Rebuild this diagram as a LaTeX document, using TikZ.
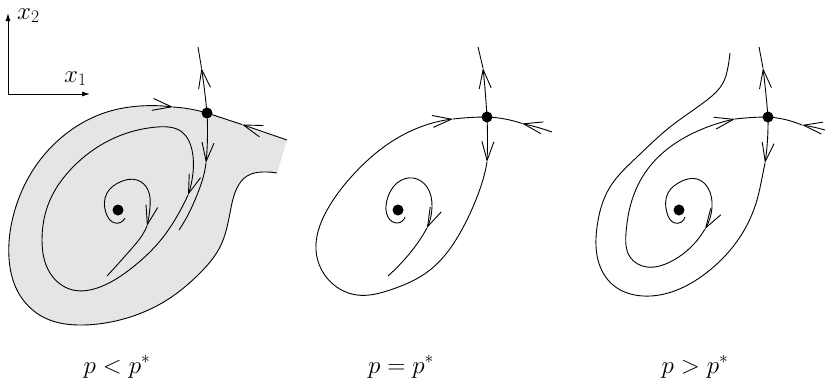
\RequirePackage{fix-cm}
\documentclass[tikz,border=0pt]{standalone}
\usetikzlibrary{arrows.meta,hobby}
\begin{document}
\begin{tikzpicture}[x=1pt,y=-1pt,
  curve/.style={line width=0.9pt, line join=round},
  barb/.style={curve,-{Straight Barb[length=19pt,width=12pt]}},
  hb/.style={use Hobby shortcut},
  axis/.style={line width=0.9pt,-{Latex[length=8pt,width=5pt]}},
  dot/.style={circle, fill=black, inner sep=0pt, minimum size=11pt},
  lab/.style={font=\fontsize{25}{30}\selectfont, anchor=base, inner sep=0pt},
  region/.style={fill=black!10}]
\useasboundingbox (0,0) rectangle (825,384);

% axes
\coordinate (o) at (8,94);
\coordinate (ax2) at (8,13);
\coordinate (ax1) at (90,94);
\draw[axis] (o) -- (ax2);
\draw[axis] (o) -- (ax1);
\node[lab, anchor=base west] (lx2) at (17,19) {$x_2$};
\node[lab, anchor=base west] (lx1) at (64,82) {$x_1$};

% fixed points
\coordinate (S1) at (207,113);
\coordinate (F1) at (118,210);
\coordinate (S2) at (487,117);
\coordinate (F2) at (398,210);
\coordinate (S3) at (768,117);
\coordinate (F3) at (679,210);

% ---------- panel 1 ----------
\fill[region, hb] (277,173) .. (263,172) .. (247,176) .. (237,188) .. (230,213) .. (220,247) .. (200,273) .. (167,300) .. (127,318) .. (83,325) .. (45,318) .. (18,292) .. (9,258) .. (14,213) .. (33,170) .. (67,133) .. (107,112) .. (140,106) .. (173,107) .. (207,113) -- (242,124.5) -- (287,140) -- cycle;
\draw[barb] (287,140) -- (242,124.5);
\draw[curve] (242,124.5) -- (S1);
\draw[barb, hb] (277,173) .. (263,172) .. (247,176) .. (237,188) .. (230,213) .. (220,247) .. (200,273) .. (167,300) .. (127,318) .. (83,325) .. (45,318) .. (18,292) .. (9,258) .. (14,213) .. (33,170) .. (67,133) .. (107,112) .. (140,106) .. (173,107);
\draw[curve, hb] (173,107) .. (190,109) .. (207,113);
\draw[barb, hb] (207,113) .. (204.5,90) .. (201.5,68);
\draw[curve] (201.5,68) -- (198,47);
\draw[barb, hb] (207,113) .. (207.5,135) .. (206,163);
\draw[curve, hb] (206,163) .. (203,178) .. (197,195) .. (189,213) .. (179,230);
\draw[barb, hb] (188,195) .. (176,218) .. (160,241) .. (133,267) .. (100,287) .. (73,290) .. (50,273) .. (42,240) .. (50,200) .. (73,167) .. (110,140) .. (157,127) .. (182,132) .. (192,150) .. (193,173) .. (188,195);
\draw[barb, hb] (125,218) .. (115,223) .. (106,213) .. (107,193) .. (120,182) .. (137,180) .. (148,190) .. (150,207) .. (147,226);
\draw[curve, hb] (147,226) .. (141,237) .. (133,247) .. (107,276);

% ---------- panel 2 ----------
\draw[barb, hb] (487,117) .. (485.5,95) .. (483,68);
\draw[curve] (483,68) -- (478,47);
\draw[barb, hb] (552,132) .. (538,127.5) .. (522,123.5);
\draw[curve, hb] (522,123.5) .. (505,119) .. (487,117);
\draw[barb, hb] (487,117) .. (487.5,140) .. (487,162);
\draw[barb, hb] (487,162) .. (485,172) .. (477,197) .. (460,233) .. (430,270) .. (390,290) .. (357,295) .. (327,278) .. (316,250) .. (326,212) .. (352,176) .. (388,144) .. (423,126) .. (453,119);
\draw[curve, hb] (453,119) .. (470,117.5) .. (487,117);
\draw[barb, hb] (405,217) .. (397,223) .. (388,217) .. (387,200) .. (397,183) .. (413,178) .. (427,187) .. (432,207) .. (427,228);
\draw[curve, hb] (427,228) .. (419,241) .. (410,253) .. (388,276);

% ---------- panel 3 ----------
\draw[barb, hb] (768,117) .. (766,95) .. (763,68);
\draw[curve] (763,68) -- (759,47);
\draw[barb, hb] (825,130) .. (813,127) .. (802,125);
\draw[curve, hb] (802,125) .. (785,119.5) .. (768,117);
\draw[barb, hb] (768,117) .. (767.5,140) .. (765,163);
\draw[curve, hb] (765,163) .. (762,178) .. (757,200) .. (740,237) .. (710,270) .. (677,290) .. (643,296) .. (613,285) .. (598,260) .. (597,227) .. (610,187) .. (637,157) .. (670,127) .. (707,100) .. (723,83) .. (728,67) .. (730,53);
\draw[barb, hb] (685,217) .. (675,223) .. (667,213) .. (668,193) .. (680,182) .. (697,179) .. (708,188) .. (712,207) .. (705,229);
\draw[barb, hb] (705,229) .. (693,245) .. (670,262) .. (647,267) .. (630,257) .. (626,233) .. (632,200) .. (647,170) .. (670,147) .. (700,130) .. (735,119);
\draw[curve, hb] (735,119) .. (752,117.5) .. (768,117);

% dots
\node[dot] (s1) at (S1) {};
\node[dot] (f1) at (F1) {};
\node[dot] (s2) at (S2) {};
\node[dot] (f2) at (F2) {};
\node[dot] (s3) at (S3) {};
\node[dot] (f3) at (F3) {};

% labels
\node[lab] (l1) at (117,373) {$p<p^*$};
\node[lab] (l2) at (401,373) {$p=p^*$};
\node[lab] (l3) at (695,373) {$p>p^*$};
\end{tikzpicture}
\end{document}
